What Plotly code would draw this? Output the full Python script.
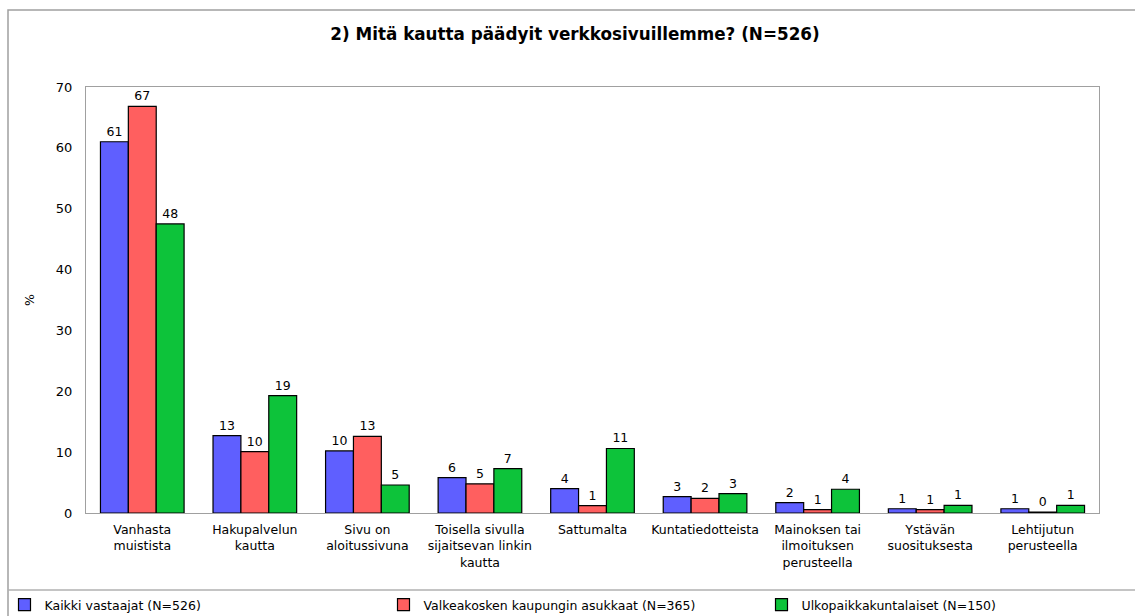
import plotly.graph_objects as go

categories = [
    "Vanhasta<br>muistista",
    "Hakupalvelun<br>kautta",
    "Sivu on<br>aloitussivuna",
    "Toisella sivulla<br>sijaitsevan linkin<br>kautta",
    "Sattumalta",
    "Kuntatiedotteista",
    "Mainoksen tai<br>ilmoituksen<br>perusteella",
    "Ystävän<br>suosituksesta",
    "Lehtijutun<br>perusteella",
]
series_names = [
    "Kaikki vastaajat (N=526)",
    "Valkeakosken kaupungin asukkaat (N=365)",
    "Ulkopaikkakuntalaiset (N=150)",
]
kaikki = [61.0, 12.7, 10.2, 5.8, 4.0, 2.7, 1.7, 0.7, 0.7]
valkeakoski = [66.8, 10.1, 12.6, 4.8, 1.2, 2.4, 0.55, 0.55, 0.15]
ulkopaikka = [47.5, 19.3, 4.6, 7.3, 10.6, 3.2, 3.9, 1.25, 1.25]
colors = ["#5F5FFF", "#FF5F5F", "#0DC33A"]
y_ticks = [0, 10, 20, 30, 40, 50, 60, 70]

W, H = 1135, 616
L, R, T, B = 86, 1099, 87, 513
FONT = "DejaVu Sans"
FS = 12.5

def px_x(p):
    return (p - L) / (R - L)

def px_y(p):
    return (B - p) / (B - T)

legend_ids = ["legend", "legend2", "legend3"]
legend_px = [4.5, 383.5, 761.5]

fig = go.Figure()
for name, vals, col, lid in zip(series_names, [kaikki, valkeakoski, ulkopaikka], colors, legend_ids):
    fig.add_trace(go.Bar(
        x=categories, y=vals, name=name, legend=lid,
        marker=dict(color=col, line=dict(color="black", width=1.2)),
        texttemplate="%{y:.0f}", textposition="outside",
        textfont=dict(family=FONT, size=FS, color="black"),
        cliponaxis=False,
    ))

legend_common = dict(
    orientation="h", xref="container", yref="container",
    xanchor="left", y=1 - 605 / H, yanchor="middle",
    font=dict(family=FONT, size=FS, color="black"),
    bgcolor="rgba(0,0,0,0)",
)

fig.update_layout(
    width=W, height=H,
    margin=dict(l=L, r=W - R, t=T, b=H - B, autoexpand=False),
    paper_bgcolor="white", plot_bgcolor="white",
    barmode="group", bargap=0.257, bargroupgap=0,
    font=dict(family=FONT, size=FS, color="black"),
    title=dict(
        text="<b>2) Mitä kautta päädyit verkkosivuillemme? (N=526)</b>",
        font=dict(family="DejaVu Sans", size=16.8, color="black"),
        x=575 / W, xanchor="center", xref="container",
        y=1 - 34 / H, yanchor="middle", yref="container",
    ),
    showlegend=True,
    legend=dict(x=legend_px[0] / W, **legend_common),
    legend2=dict(x=legend_px[1] / W, **legend_common),
    legend3=dict(x=legend_px[2] / W, **legend_common),
    xaxis=dict(
        showline=True, linecolor="#a0a0a0", linewidth=1, mirror=True,
        ticks="", showgrid=False, tickfont=dict(family=FONT, size=FS),
        tickangle=0, ticklabelstandoff=5,
    ),
    yaxis=dict(
        range=[0, 70], tickvals=y_ticks, showline=True, linecolor="#a0a0a0",
        linewidth=1, mirror=True, ticks="", showgrid=False, zeroline=False,
        ticklabelstandoff=10, tickfont=dict(family=FONT, size=13),
        title=dict(text="%", standoff=18, font=dict(family=FONT, size=FS)),
    ),
    shapes=[
        dict(type="rect", xref="paper", yref="paper",
             x0=px_x(8), x1=px_x(W + 5), y0=px_y(H + 5), y1=px_y(10),
             line=dict(color="#a0a0a0", width=1.5), layer="below"),
        dict(type="line", xref="paper", yref="paper",
             x0=px_x(8), x1=px_x(W + 5), y0=px_y(590), y1=px_y(590),
             line=dict(color="#b0b0b0", width=1.5)),
    ],
)

fig.write_html("out.html", config={"displayModeBar": False},
               post_script="document.body.style.margin='0';")
